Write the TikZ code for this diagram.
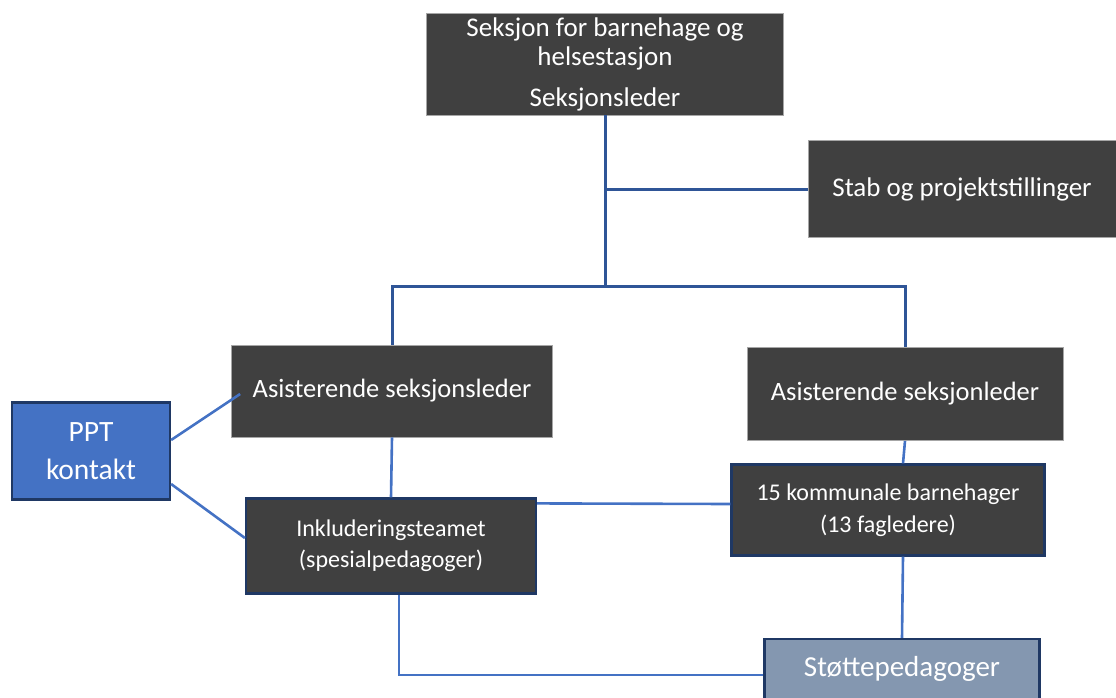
\documentclass[tikz,border=0pt]{standalone}
\usepackage{fontspec}
\setmainfont{Carlito}
\usepackage{tikz}
\usetikzlibrary{positioning}
\definecolor{boxgrey}{HTML}{404040}
\definecolor{lineblue}{HTML}{2F5597}
\definecolor{lightblue}{HTML}{4472C4}
\definecolor{navy}{HTML}{1F3864}
\definecolor{greyblue}{HTML}{8497B0}

\begin{document}
\begin{tikzpicture}[x=1pt, y=-1pt,
    darkbox/.style={rectangle, fill=boxgrey, draw=gray!70, line width=0.8pt, text=white, inner sep=0pt, align=center},
    edgebox/.style={darkbox, draw=navy, line width=2.2pt},
    topline/.style={draw=lineblue, line width=3pt},
    lowline/.style={draw=lightblue, line width=2.6pt}]
      \useasboundingbox (0,0) rectangle (1116,697);
      \node[darkbox, minimum width=357pt, minimum height=102pt, font=\fontsize{27}{29}\selectfont] (leder) at (605,64)
        {Seksjon for barnehage og\\ helsestasjon\\[12pt] Seksjonsleder};
      \node[darkbox, minimum width=308pt, minimum height=97pt, font=\fontsize{27}{30}\selectfont] (stab) at (962,189) {Stab og projektstillinger};
      \node[darkbox, minimum width=321pt, minimum height=92pt, font=\fontsize{26.5}{30}\selectfont] (asstL) at (392,391) {Asisterende seksjonsleder};
      \node[darkbox, minimum width=316pt, minimum height=93pt, font=\fontsize{26.5}{30}\selectfont] (asstR) at (905,394) {Asisterende seksjonleder};
      \node[edgebox, fill=lightblue, minimum width=158pt, minimum height=97pt, font=\fontsize{29.5}{38}\selectfont] (ppt) at (91,451) {PPT\\ kontakt};
      \node[edgebox, minimum width=290pt, minimum height=95pt, font=\fontsize{24}{31}\selectfont] (inkl) at (391,546) {Inkluderingsteamet\\ (spesialpedagoger)};
      \node[edgebox, minimum width=313pt, minimum height=91pt, font=\fontsize{24}{32}\selectfont] (kom) at (888,510) {15 kommunale barnehager\\ (13 fagledere)};
      \node[edgebox, fill=greyblue, minimum width=275pt, minimum height=60pt, font=\fontsize{29}{34}\selectfont] (stotte) at (902,669) {Støttepedagoger};

      \coordinate (knot) at (605,189);
      \coordinate (fork) at (605,286);

      \draw[topline] (leder.south) -- (fork);
      \draw[topline] (knot) -- (stab.west);
      \draw[topline] (fork) -| (asstL.north);
      \draw[topline] (fork) -| (asstR.north);

      \draw[lowline] (asstL.south) -- (inkl.north);
      \draw[lowline] (asstR.south) -- ([xshift=15pt]kom.north);
      \draw[lowline] ([yshift=-6pt]inkl.north east) -- ([yshift=6pt]kom.west);
      \draw[lowline] ([xshift=15pt]kom.south) -- (stotte.north);
      \draw[lowline] ([xshift=8pt]inkl.south) |- ([yshift=-6pt]stotte.west);
      \draw[lowline] ([yshift=11pt]ppt.east) -- ([xshift=9pt,yshift=-3pt]asstL.west);
      \draw[lowline] ([yshift=-33pt]ppt.east) -- ([yshift=8pt]inkl.west);
    \end{tikzpicture}
\end{document}
